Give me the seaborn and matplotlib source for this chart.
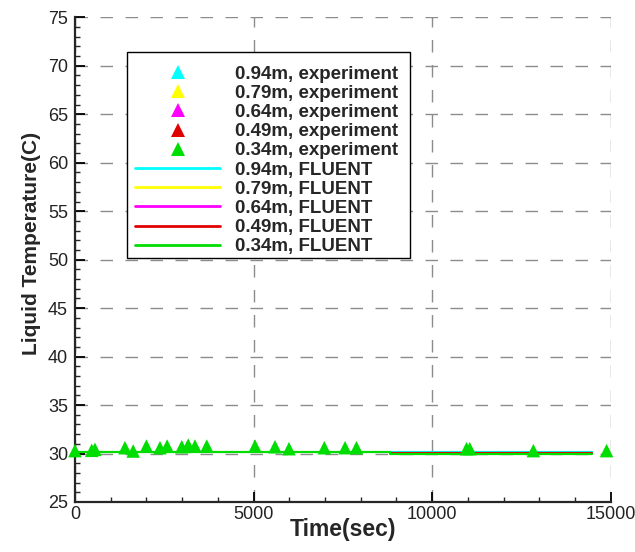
import numpy as np
import pandas as pd
import seaborn as sns
import matplotlib.pyplot as plt
from matplotlib.lines import Line2D
from matplotlib.patches import Rectangle
from matplotlib.ticker import MultipleLocator

# -------------------------------------------------------------------
# Data
# -------------------------------------------------------------------

heights = ["0.94m", "0.79m", "0.64m", "0.49m", "0.34m"]
colors = ["#00FFFF", "#FFFF00", "#FF00FF", "#E00000", "#00DD00"]

# experiment: only the 0.34 m series has visible points
exp_time = {
    "0.94m": [],
    "0.79m": [],
    "0.64m": [],
    "0.49m": [],
    "0.34m": [0, 470, 560, 1400, 1630, 2000, 2380, 2580, 2990, 3170, 3360,
              3690, 5040, 5600, 5990, 6980, 7560, 7880, 10960, 11050,
              12830, 14880],
}
exp_temp = {
    "0.94m": [],
    "0.79m": [],
    "0.64m": [],
    "0.49m": [],
    "0.34m": [30.3, 30.33, 30.43, 30.6, 30.26, 30.77, 30.6, 30.77, 30.7,
              30.87, 30.77, 30.77, 30.77, 30.7, 30.5, 30.6, 30.6, 30.6,
              30.5, 30.5, 30.3, 30.3],
}

# FLUENT curves
cfd_time = {
    "0.94m": [8820, 14470],
    "0.79m": [8820, 14470],
    "0.64m": [8820, 14470],
    "0.49m": [8820, 14470],
    "0.34m": [0, 8820, 8820, 14470],
}
cfd_temp = {
    "0.94m": [30.14, 30.14],
    "0.79m": [30.05, 30.05],
    "0.64m": [30.07, 30.07],
    "0.49m": [30.09, 30.09],
    "0.34m": [30.12, 30.12, 29.95, 29.95],
}

# -------------------------------------------------------------------
# Style
# -------------------------------------------------------------------

sns.set_style("ticks")
plt.rcParams["font.family"] = ["Liberation Sans", "DejaVu Sans"]

fig = plt.figure(figsize=(6.35, 5.52), dpi=100)
ax = fig.add_axes([0.118, 0.0906, 0.844, 0.878])

# FLUENT lines (drawn first, under the markers)
draw_order = ["0.79m", "0.64m", "0.94m", "0.49m", "0.34m"]
for h in draw_order:
    c = colors[heights.index(h)]
    df = pd.DataFrame({"t": cfd_time[h], "T": cfd_temp[h]})
    sns.lineplot(data=df, x="t", y="T", ax=ax, color=c, linewidth=1.6,
                 sort=False, estimator=None, legend=False, zorder=3)

# experiment markers
for h, c in zip(heights, colors):
    if len(exp_time[h]) == 0:
        continue
    df = pd.DataFrame({"t": exp_time[h], "T": exp_temp[h]})
    sns.scatterplot(data=df, x="t", y="T", ax=ax, color=c, marker="^",
                    s=95, edgecolor="none", legend=False, zorder=4,
                    clip_on=False)

ax.set_xlim(0, 15000)
ax.set_ylim(25, 75)
ax.xaxis.set_major_locator(MultipleLocator(5000))
ax.xaxis.set_minor_locator(MultipleLocator(1000))
ax.yaxis.set_major_locator(MultipleLocator(5))
ax.yaxis.set_minor_locator(MultipleLocator(1))

ax.tick_params(which="major", direction="in", length=7, width=1.3,
               labelsize=13, colors="black", pad=5)
ax.tick_params(axis="x", which="major", pad=3)
ax.tick_params(which="minor", direction="in", length=3.5, width=1.0)
for lab in ax.get_xticklabels() + ax.get_yticklabels():
    lab.set_color("#222222")

ax.spines["top"].set_visible(False)
ax.spines["right"].set_visible(False)
ax.spines["left"].set_linewidth(1.6)
ax.spines["bottom"].set_linewidth(1.6)

ax.grid(True, which="major", color="#8c8c8c", linewidth=1.0,
        linestyle=(0, (9, 9)))
ax.set_axisbelow(True)

ax.set_xlabel("Time(sec)", fontsize=16.5, fontweight="bold", va="top")
ax.xaxis.set_label_coords(0.5, -0.034)
ax.set_ylabel("Liquid Temperature(C)", fontsize=15, fontweight="bold")
ax.yaxis.set_label_coords(-0.063, 0.534)

# legend box drawn as a separate frame so the entries can sit a bit lower
ax.add_patch(Rectangle((0.097, 0.503), 0.528, 0.4247, transform=ax.transAxes,
                       facecolor="white", edgecolor="black", linewidth=1.0,
                       zorder=5))

# legend: experiments first, then FLUENT
handles = []
labels = []
for h, c in zip(heights, colors):
    handles.append(Line2D([], [], linestyle="none", marker="^", color=c,
                          markersize=10, markeredgewidth=0))
    labels.append(f"{h}, experiment")
for h, c in zip(heights, colors):
    handles.append(Line2D([], [], color=c, linewidth=2.0))
    labels.append(f"{h}, FLUENT")

leg = ax.legend(handles, labels, loc="upper left",
                bbox_to_anchor=(0.097, 0.918), borderaxespad=0,
                frameon=False, handlelength=4.5, handletextpad=0.8,
                labelspacing=0.11, borderpad=0.45,
                prop={"size": 13.5, "weight": "bold"})
leg.set_zorder(6)

plt.savefig("out.png", dpi=100)
